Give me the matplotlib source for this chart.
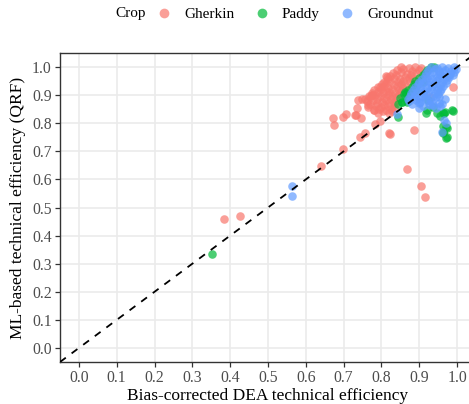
import matplotlib
matplotlib.use("Agg")
import matplotlib.pyplot as plt
from matplotlib.lines import Line2D

plt.rcParams['font.family'] = ['Liberation Serif', 'DejaVu Serif']

# ---- data ----
gherkin_x = [0.641, 0.699, 0.867, 0.904, 0.915, 0.384, 0.426,
             0.673, 0.675, 0.698, 0.705, 0.733, 0.746, 0.743, 0.757, 0.783, 0.796,
             0.821, 0.887, 0.834, 0.929, 0.990, 0.739, 0.776, 0.812, 0.796,
             0.735, 0.748, 0.774, 0.814, 0.827, 0.823, 0.730, 0.779, 0.765,
             0.853, 0.872, 0.888, 0.905,
             0.842, 0.858, 0.881, 0.898,
             0.831, 0.852, 0.868, 0.892,
             0.822, 0.838, 0.861, 0.879,
             0.816, 0.833, 0.849, 0.872, 0.884,
             0.808, 0.823, 0.843, 0.858, 0.876,
             0.801, 0.813, 0.832, 0.851, 0.863,
             0.792, 0.806, 0.818, 0.842, 0.856,
             0.781, 0.798, 0.812, 0.828, 0.847,
             0.774, 0.791, 0.803, 0.821, 0.837, 0.851,
             0.766, 0.782, 0.797, 0.816, 0.829, 0.846,
             0.756, 0.771, 0.789, 0.808, 0.826, 0.838,
             0.762, 0.778, 0.801, 0.813, 0.832,
             0.771, 0.788, 0.806, 0.819, 0.836,
             0.764, 0.786, 0.799, 0.817,
             0.779, 0.794, 0.812, 0.824,
             0.791, 0.803, 0.821]
gherkin_y = [0.648, 0.707, 0.637, 0.576, 0.538, 0.458, 0.471,
             0.817, 0.794, 0.823, 0.832, 0.829, 0.820, 0.752, 0.766, 0.797, 0.809,
             0.766, 0.776, 0.853, 0.894, 0.930, 0.883, 0.902, 0.968, 0.930,
             0.855, 0.888, 0.900, 0.966, 0.842, 0.760, 0.829, 0.847, 0.865,
             1.000, 0.997, 1.000, 0.995,
             0.988, 0.992, 0.986, 0.990,
             0.978, 0.982, 0.975, 0.980,
             0.968, 0.972, 0.966, 0.971,
             0.958, 0.962, 0.956, 0.961, 0.957,
             0.948, 0.952, 0.946, 0.951, 0.947,
             0.938, 0.942, 0.936, 0.941, 0.937,
             0.928, 0.932, 0.926, 0.931, 0.927,
             0.918, 0.922, 0.916, 0.921, 0.917,
             0.908, 0.912, 0.906, 0.911, 0.907, 0.913,
             0.898, 0.902, 0.896, 0.901, 0.897, 0.903,
             0.888, 0.892, 0.886, 0.891, 0.887, 0.893,
             0.878, 0.882, 0.876, 0.881, 0.877,
             0.868, 0.872, 0.866, 0.871, 0.867,
             0.858, 0.862, 0.856, 0.861,
             0.848, 0.852, 0.846, 0.851,
             0.838, 0.842, 0.836]

paddy_x = [0.353, 0.845, 0.918, 0.955, 0.988, 0.971, 0.962, 0.971, 0.966,
           0.865, 0.868, 0.889, 0.911, 0.937, 0.920, 0.968, 0.986,
           0.862, 0.854, 0.924, 0.964, 0.964, 0.972, 0.962, 0.972, 0.948,
           0.86, 0.87, 0.88, 0.885, 0.89, 0.90, 0.91, 0.915, 0.92, 0.93,
           0.94, 0.875, 0.85, 0.845, 0.855, 0.87, 0.895, 0.905]
paddy_y = [0.334, 0.823, 0.835, 0.826, 0.843, 0.785, 0.766, 0.746, 0.838,
           0.909, 0.877, 0.918, 0.948, 0.859, 0.847, 0.841, 0.847,
           0.912, 0.877, 0.883, 0.835, 0.790, 0.782, 0.770, 0.750, 0.835,
           0.905, 0.92, 0.93, 0.94, 0.95, 0.96, 0.97, 0.98, 0.99, 1.00,
           1.00, 0.905, 0.89, 0.87, 0.875, 0.895, 0.935, 0.95]

groundnut_x = [0.563, 0.563, 0.842, 0.900, 0.937, 0.966, 0.970, 0.959, 0.968,
               0.951, 0.945, 0.955, 0.960, 0.925, 0.910,
               0.932, 0.946, 0.961, 0.977, 0.992,
               0.924, 0.941, 0.953, 0.969, 0.984, 0.996,
               0.918, 0.936, 0.951, 0.963, 0.981, 0.991,
               0.914, 0.928, 0.947, 0.958, 0.976, 0.988,
               0.906, 0.921, 0.933, 0.952, 0.966, 0.979,
               0.899, 0.916, 0.929, 0.944, 0.961, 0.973,
               0.896, 0.908, 0.926, 0.939, 0.954, 0.971,
               0.888, 0.904, 0.921, 0.934, 0.949, 0.964,
               0.884, 0.901, 0.913, 0.931, 0.946, 0.958,
               0.879, 0.894, 0.911, 0.923, 0.941, 0.956,
               0.876, 0.889, 0.906, 0.918, 0.936, 0.949,
               0.871, 0.886, 0.898, 0.916, 0.928, 0.944,
               0.874, 0.891, 0.903, 0.921, 0.933,
               0.882, 0.899, 0.928, 0.951]
groundnut_y = [0.576, 0.541, 0.832, 0.853, 0.865, 0.811, 0.802, 0.770, 0.885,
               0.894, 0.855, 0.860, 0.870, 0.870, 0.860,
               1.000, 0.996, 1.000, 0.997, 1.000,
               0.988, 0.992, 0.986, 0.991, 0.987, 0.993,
               0.978, 0.982, 0.976, 0.981, 0.977, 0.983,
               0.968, 0.972, 0.966, 0.971, 0.967, 0.973,
               0.958, 0.962, 0.956, 0.961, 0.957, 0.963,
               0.948, 0.952, 0.946, 0.951, 0.947, 0.953,
               0.938, 0.942, 0.936, 0.941, 0.937, 0.943,
               0.928, 0.932, 0.926, 0.931, 0.927, 0.933,
               0.918, 0.922, 0.916, 0.921, 0.917, 0.923,
               0.908, 0.912, 0.906, 0.911, 0.907, 0.913,
               0.898, 0.902, 0.896, 0.901, 0.897, 0.903,
               0.888, 0.892, 0.886, 0.891, 0.887, 0.893,
               0.878, 0.882, 0.876, 0.881, 0.877,
               0.868, 0.872, 0.866, 0.871]

crops = ["Gherkin", "Paddy", "Groundnut"]
colors = ["#F8766D", "#00BA38", "#619CFF"]
ticks = [0.0, 0.1, 0.2, 0.3, 0.4, 0.5, 0.6, 0.7, 0.8, 0.9, 1.0]
tick_labels = ["0.0", "0.1", "0.2", "0.3", "0.4", "0.5", "0.6", "0.7", "0.8", "0.9", "1.0"]

# ---- figure ----
fig = plt.figure(figsize=(4.69, 4.04), dpi=100)
ax = fig.add_axes([60/469, 42/404, 416/469, 309/404])

series = [(gherkin_x, gherkin_y), (paddy_x, paddy_y), (groundnut_x, groundnut_y)]
for (xs, ys), c in zip(series, colors):
    ax.scatter(xs, ys, s=38, color=c, alpha=0.7, linewidths=0, zorder=3)

ax.axline((0, 0), slope=1, color="black", lw=1.3, linestyle=(0, (4, 4)), zorder=4)

ax.set_xlim(-0.05, 1.05)
ax.set_ylim(-0.05, 1.05)
ax.set_xticks(ticks)
ax.set_xticklabels(tick_labels)
ax.set_yticks(ticks)
ax.set_yticklabels(tick_labels)
ax.grid(True, color="#EBEBEB", lw=1.2, zorder=0)
ax.set_axisbelow(True)
for side in ["left", "bottom", "top", "right"]:
    ax.spines[side].set_color("#333333")
    ax.spines[side].set_linewidth(1.0)
ax.tick_params(axis="both", direction="out", length=3.5, width=0.9, color="#333333",
               labelcolor="#4D4D4D", labelsize=11.3, pad=2.5)

ax.set_xlabel("Bias-corrected DEA technical efficiency", fontsize=12.5, color="black")
ax.xaxis.set_label_coords((268 - 60) / 416, -(396 - 362) / 309)
ax.xaxis.label.set_va("center")
ax.set_ylabel("ML-based technical efficiency (QRF)", fontsize=12.5, color="black", labelpad=4)

# legend at top
fig.text(115/469, 1 - 14/404, "Crop", fontsize=11, va="center", ha="left")
handles = [Line2D([], [], marker="o", linestyle="none", markersize=7,
                  markerfacecolor=c, markeredgewidth=0, alpha=0.7) for c in colors]
fig.legend(handles, crops, loc="center left", bbox_to_anchor=(155/469, 1 - 14/404),
           ncol=3, frameon=False, fontsize=11, handlelength=1.2, handletextpad=0.7,
           columnspacing=1.2, borderaxespad=0, borderpad=0)

fig.savefig("out.png", dpi=100)
